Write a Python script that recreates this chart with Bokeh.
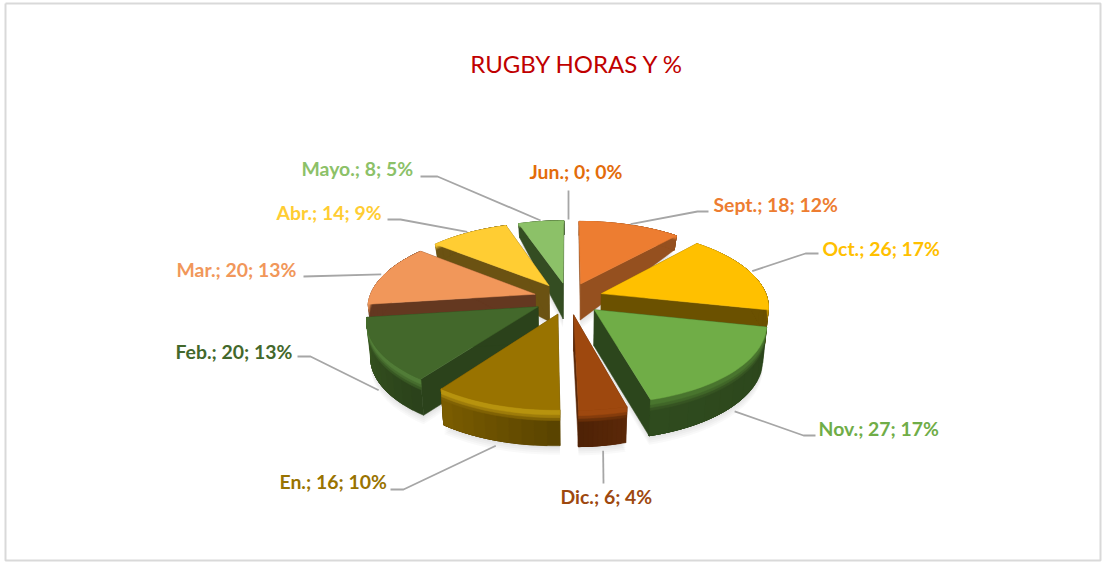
import numpy as np
from bokeh.plotting import figure
from bokeh.models import Range1d
from bokeh.core.properties import value
from bokeh.embed import file_html
from bokeh.resources import INLINE

# ---- data
months = ["Sept.", "Oct.", "Nov.", "Dic.", "En.", "Feb.", "Mar.", "Abr.", "Mayo.", "Jun."]
hours = [18, 26, 27, 6, 16, 20, 20, 14, 8, 0]
title_text = "RUGBY HORAS Y %"

# ---- styles
top_col = ["#ED7D31", "#FFC000", "#70AD47", "#9E480E", "#997300", "#43682B", "#F1975A", "#FFCD33", "#8CC168", "#E36C0A"]
wall_col = ["#95501F", "#6B5100", "#2C461C", "#5A2808", "#5A4400", "#2B421B", "#643820", "#6B5212", "#344D22", "#E36C0A"]
wall_end = ["#95501F", "#6B5100", "#2F4B1E", "#4F2206", "#7A5C00", "#36541F", "#643820", "#6B5212", "#344D22", "#E36C0A"]
bevel_col = ["#ED7D31", "#E0A800", "#4C7A30", "#A64C10", "#C09A10", "#55823A", "#F1975A", "#FFCD33", "#8CC168", "#E36C0A"]
label_col = ["#ED7D31", "#FFC000", "#70AD47", "#9E480E", "#997300", "#43682B", "#F1975A", "#FFCD33", "#8CC168", "#E36C0A"]

# ---- layout (pixels)
CX, CY, RX, RY, PERSP, EXPL = 568, 298, 166, 76, 0.15, 0.21
label_x = [713, 822, 818, 560, 279, 175, 176, 276, 301, 529]
label_y = [204, 248, 428, 496, 481, 351, 269, 212, 168, 171]
lead_end = [(697, 211, 708), (805, 253, 818), (803, 435, 815), (603, 483, 603), (403, 489, 390),
            (310, 356, 297), (303, 276, 303), (400, 219, 387), (437, 176, 420), (568, 190, 568)]


def height(v):
    return np.interp(v, [0.2, 0.95], [36, 14])


def proj(u, v, dz=0.0):
    s = 1 / (1 + PERSP * v)
    x = RX * u * s
    y = -RY * v * s
    return CX + x * (1 - 0.02 * dz), CY + y + height(v) * dz


def blend(a, b, t):
    t = float(np.clip(t, 0, 1))
    ca = [int(a[i:i + 2], 16) for i in (1, 3, 5)]
    cb = [int(b[i:i + 2], 16) for i in (1, 3, 5)]
    return "#%02x%02x%02x" % tuple(int(round(x + (y - x) * t)) for x, y in zip(ca, cb))


total = sum(hours)
edges = np.concatenate([[0], np.cumsum(hours)]) / total * 2 * np.pi
mids = (edges[:-1] + edges[1:]) / 2
off_u = EXPL * np.sin(mids)
off_v = EXPL * np.cos(mids)

p = figure(width=1102, height=563, x_range=Range1d(0, 1102), y_range=Range1d(563, 0),
           output_backend="svg", toolbar_location=None, min_border=0,
           background_fill_color="white", border_fill_color="white", outline_line_color=None)
p.axis.visible = False
p.grid.visible = False

# chart frame
p.line([5, 1100, 1100, 5, 5], [3, 3, 560, 560, 3], line_color="#D9D9D9", line_width=2)

order = sorted([i for i in range(len(hours)) if hours[i] > 0], key=lambda i: -off_v[i])


def arc(i, a, b, r=1.0, dz=0.0):
    th = np.linspace(a, b, max(3, int((b - a) / 0.04)))
    pts = [proj(off_u[i] + r * np.sin(t), off_v[i] + r * np.cos(t), dz) for t in th]
    return [q[0] for q in pts], [q[1] for q in pts]


def outline(i, dz=0.0):
    x0, y0 = proj(off_u[i], off_v[i], dz)
    xs, ys = arc(i, edges[i], edges[i + 1], 1.0, dz)
    return [x0] + xs, [y0] + ys


# soft shadow
sx, sy = [], []
for i in order:
    xs, ys = outline(i, 1.0)
    for k in (1.5, 3, 5, 7, 9):
        sx.append(list(xs)); sy.append([y + k for y in ys])
p.patches(sx, sy, fill_color="#000000", fill_alpha=0.022, line_color=None)

X, Y, C = [], [], []


def add(xs, ys, c):
    X.append(list(xs)); Y.append(list(ys)); C.append(c)


for i in order:
    a, b = edges[i], edges[i + 1]
    # radial faces
    for t in (a, b):
        ax, ay = proj(off_u[i], off_v[i])
        ax2, ay2 = proj(off_u[i], off_v[i], 1)
        ox, oy = proj(off_u[i] + np.sin(t), off_v[i] + np.cos(t))
        ox2, oy2 = proj(off_u[i] + np.sin(t), off_v[i] + np.cos(t), 1)
        add([ax, ox, ox2, ax2], [ay, oy, oy2, ay2], wall_col[i])
    # outer wall: overlapping pieces that shade along the arc
    for k in range(10):
        t0 = a + (b - a) * k / 10
        c = blend(wall_col[i], wall_end[i], k / 9)
        tx, ty = arc(i, t0, b, 1.0, 0.0)
        bx, by = arc(i, t0, b, 1.0, 1.0)
        add(tx + bx[::-1], ty + by[::-1], c)
    # bevel at the top of the wall
    wall_mid = blend(wall_col[i], wall_end[i], 0.5)
    for d1, f in [(0.30, 0.75), (0.22, 0.4), (0.14, 0.1)]:
        c = blend(bevel_col[i], wall_mid, f)
        tx, ty = arc(i, a, b, 1.0, 0.0)
        bx, by = arc(i, a, b, 1.0, d1)
        add(tx + bx[::-1], ty + by[::-1], c)
    # top
    xs, ys = outline(i)
    add(xs, ys, top_col[i])

p.patches(X, Y, fill_color=C, line_color=C, line_width=0.5)

# leaders: from the slice's outer point at mid angle to the label
for i in range(len(hours)):
    front = np.cos(mids[i]) < -0.1
    sx0, sy0 = proj(off_u[i] + 1.02 * np.sin(mids[i]), off_v[i] + 1.02 * np.cos(mids[i]), 1.0 if front else 0.0)
    kx, ky, ex = lead_end[i]
    p.line([sx0, kx, ex], [sy0 + (3 if front else 0), ky, ky], line_color="#A6A6A6", line_width=1.8)

# labels
pct = [round(h / total * 100) for h in hours]
texts = [f"{m}; {h}; {q}%" for m, h, q in zip(months, hours, pct)]
p.text(label_x, label_y, text=texts, text_color=label_col, text_font=value("Lato"),
       text_font_style="bold", text_font_size="19.4px", text_align="left", text_baseline="middle")
p.text([577], [63], text=[title_text], text_color="#C00000", text_font=value("Lato"),
       text_font_size="24px", text_align="center", text_baseline="middle")

open("out.html", "w").write(file_html(p, INLINE))
